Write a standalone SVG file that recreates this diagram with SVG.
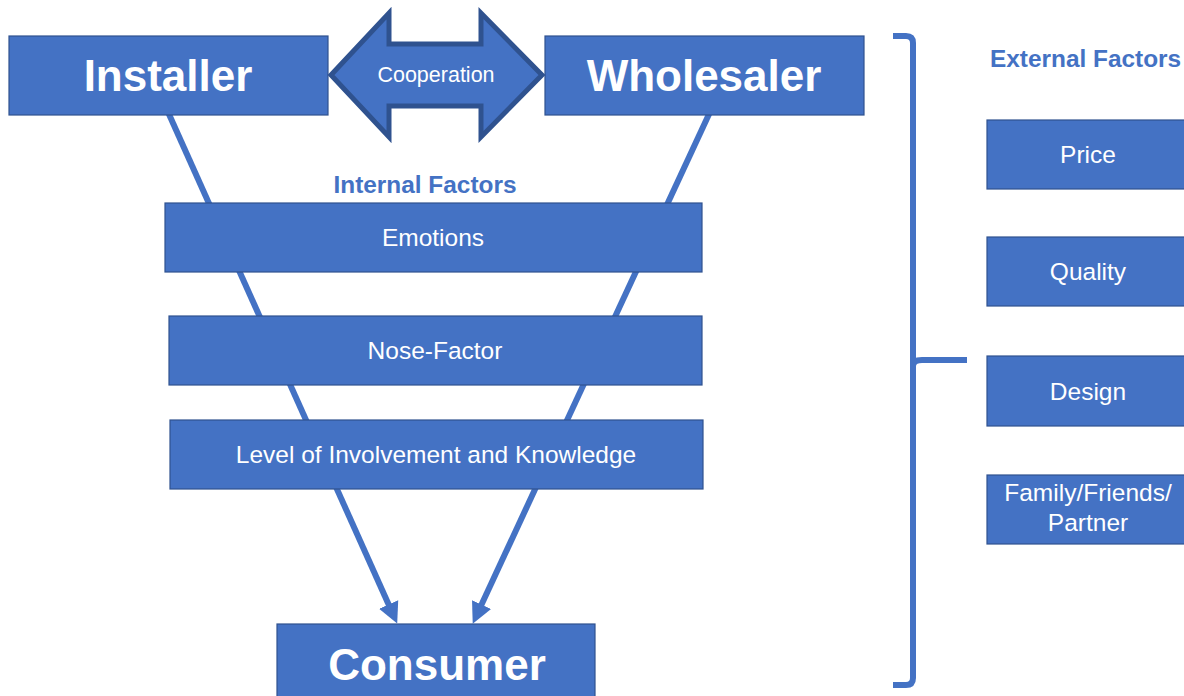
<svg xmlns="http://www.w3.org/2000/svg" width="1184" height="696" viewBox="0 0 1184 696">
<defs>
<style>
.box{fill:#4472C4;stroke:#2F528F;stroke-width:1.2}
.big{font-family:"Liberation Sans",Arial,sans-serif;font-weight:bold;font-size:44px;fill:#fff;text-anchor:middle}
.lbl{font-family:"Liberation Sans",Arial,sans-serif;font-size:24.5px;fill:#fff;text-anchor:middle}
.head{font-family:"Liberation Sans",Arial,sans-serif;font-weight:bold;font-size:24.4px;fill:#4472C4}
.conn{fill:none;stroke:#4472C4;stroke-width:6}
</style>
<marker id="ah" viewBox="0 0 20 20" markerWidth="21" markerHeight="23" refX="6" refY="10" orient="auto" markerUnits="userSpaceOnUse">
<path d="M0,0 L20,10 L0,20 z" fill="#4472C4"/>
</marker>
</defs>
<rect width="1184" height="696" fill="#fff"/>
<g id="connectors">
<line class="conn" x1="168" y1="112" x2="391.2" y2="610.2" marker-end="url(#ah)"/>
<line class="conn" x1="710" y1="112" x2="478.9" y2="610.3" marker-end="url(#ah)"/>
<path id="bracket" class="conn" d="M893,36 H906 Q913,36 913,43 V678 Q913,685 906,685 H893 M913,366 Q913,360 922,360 H967"/>
</g>
<g id="installer">
<rect class="box" x="9" y="36" width="319" height="79"/>
<text class="big" x="168" y="91">Installer</text>
</g>
<g id="wholesaler">
<rect class="box" x="545" y="36" width="319" height="79"/>
<text class="big" x="704" y="91">Wholesaler</text>
</g>
<g id="cooperation">
<polygon points="331,75 389,13 389,44 481,44 481,13 542,75 481,137 481,106 389,106 389,137" fill="#4472C4" stroke="#2F528F" stroke-width="5"/>
<text class="lbl" x="436" y="82" style="font-size:21.5px">Cooperation</text>
</g>
<g id="internal-label">
<text class="head" x="425" y="193" text-anchor="middle">Internal Factors</text>
</g>
<g id="emotions">
<rect class="box" x="165" y="203" width="537" height="69"/>
<text class="lbl" x="433" y="246">Emotions</text>
</g>
<g id="nose-factor">
<rect class="box" x="169" y="316" width="533" height="69"/>
<text class="lbl" x="435" y="359">Nose-Factor</text>
</g>
<g id="involvement">
<rect class="box" x="170" y="420" width="533" height="69"/>
<text class="lbl" x="436" y="463">Level of Involvement and Knowledge</text>
</g>
<g id="consumer">
<rect class="box" x="277" y="624" width="318" height="80"/>
<text class="big" x="437" y="680">Consumer</text>
</g>
<g id="external-label">
<text class="head" x="990" y="67">External Factors</text>
</g>
<g id="price">
<rect class="box" x="987" y="120" width="204" height="69"/>
<text class="lbl" x="1088" y="163">Price</text>
</g>
<g id="quality">
<rect class="box" x="987" y="237" width="204" height="69"/>
<text class="lbl" x="1088" y="280">Quality</text>
</g>
<g id="design">
<rect class="box" x="987" y="356" width="204" height="70"/>
<text class="lbl" x="1088" y="400">Design</text>
</g>
<g id="family">
<rect class="box" x="987" y="475" width="204" height="69"/>
<text class="lbl" x="1088" y="501">Family/Friends/</text>
<text class="lbl" x="1088" y="531">Partner</text>
</g>
</svg>
